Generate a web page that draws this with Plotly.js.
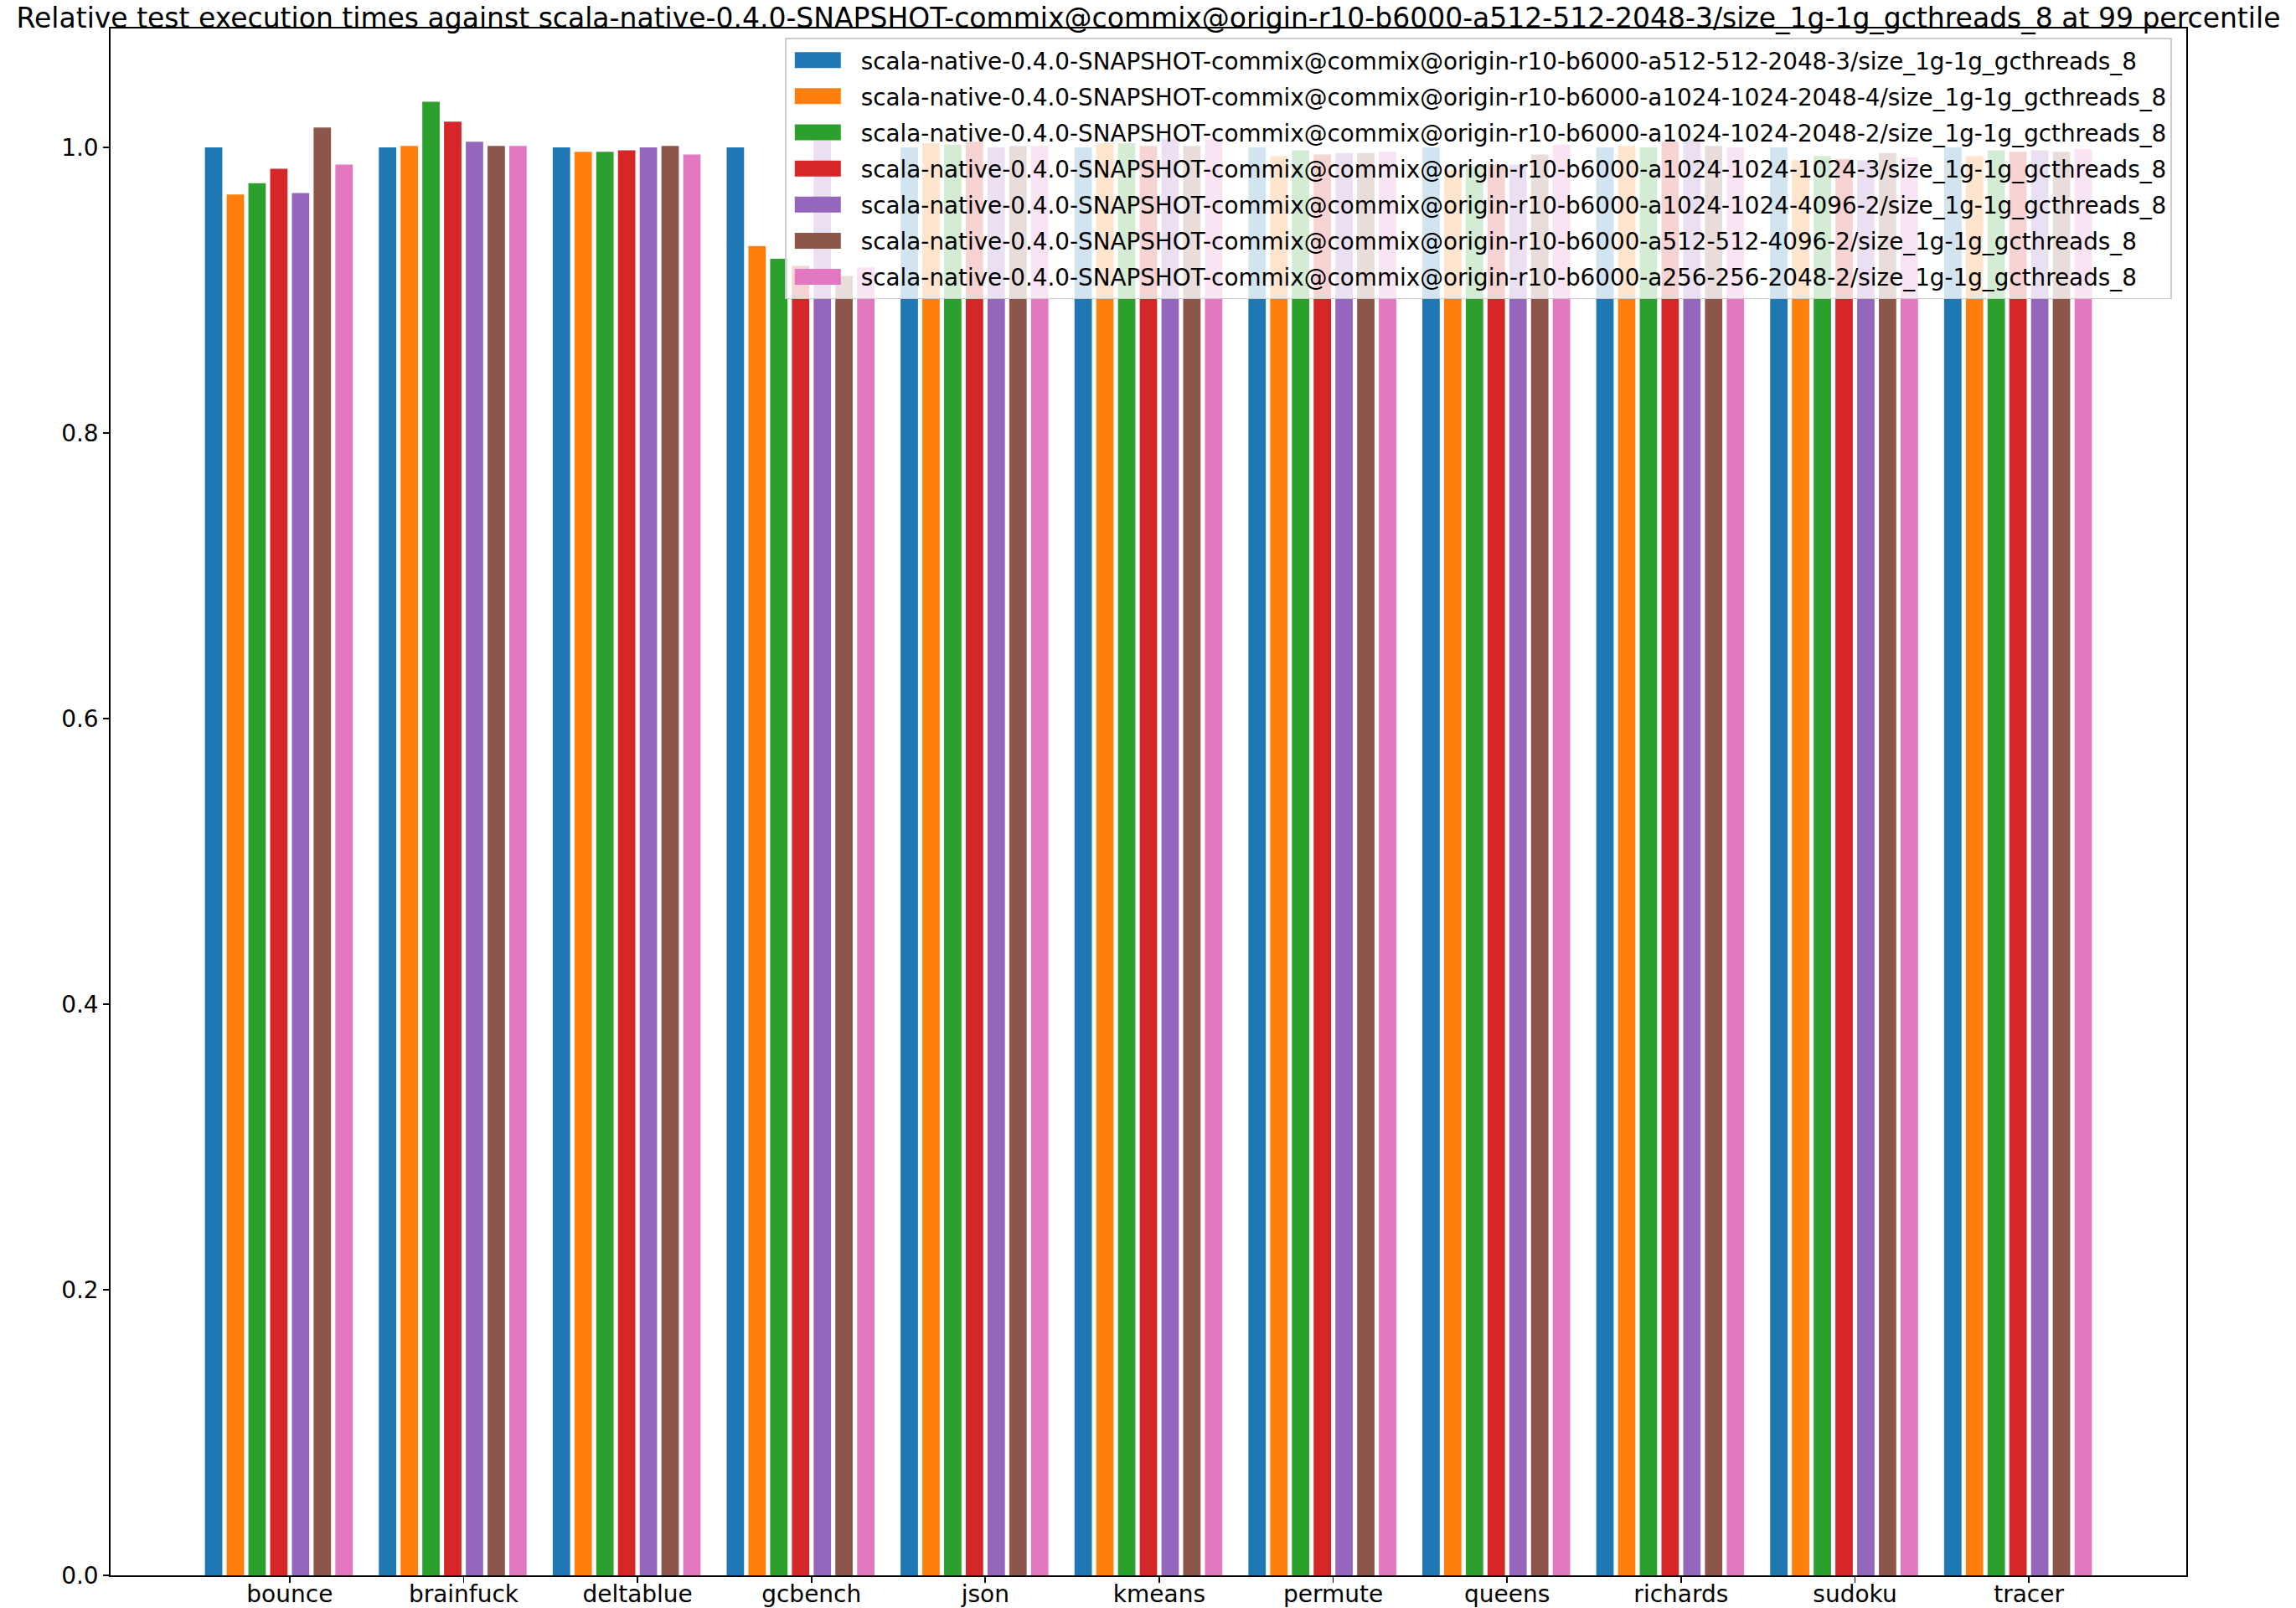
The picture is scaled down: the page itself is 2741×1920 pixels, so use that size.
<!DOCTYPE html>
<html>
<head>
<meta charset="utf-8">
<script src="https://cdn.plot.ly/plotly-3.0.1.min.js"></script>
<style>html,body{margin:0;padding:0;background:#fff;}#chart{width:2741px;height:1920px;}</style>
</head>
<body>
<div id="chart"></div>
<script>
const categories = ["bounce","brainfuck","deltablue","gcbench","json","kmeans","permute","queens","richards","sudoku","tracer"];

const seriesNames = [
  "scala-native-0.4.0-SNAPSHOT-commix@commix@origin-r10-b6000-a512-512-2048-3/size_1g-1g_gcthreads_8",
  "scala-native-0.4.0-SNAPSHOT-commix@commix@origin-r10-b6000-a1024-1024-2048-4/size_1g-1g_gcthreads_8",
  "scala-native-0.4.0-SNAPSHOT-commix@commix@origin-r10-b6000-a1024-1024-2048-2/size_1g-1g_gcthreads_8",
  "scala-native-0.4.0-SNAPSHOT-commix@commix@origin-r10-b6000-a1024-1024-1024-3/size_1g-1g_gcthreads_8",
  "scala-native-0.4.0-SNAPSHOT-commix@commix@origin-r10-b6000-a1024-1024-4096-2/size_1g-1g_gcthreads_8",
  "scala-native-0.4.0-SNAPSHOT-commix@commix@origin-r10-b6000-a512-512-4096-2/size_1g-1g_gcthreads_8",
  "scala-native-0.4.0-SNAPSHOT-commix@commix@origin-r10-b6000-a256-256-2048-2/size_1g-1g_gcthreads_8"
];

const s_a512_2048_3   = [1.0, 1.0, 1.0, 1.0, 1.0, 1.0, 1.0, 1.0, 1.0, 1.0, 1.0];
const s_a1024_2048_4  = [0.967, 1.001, 0.997, 0.931, 1.003, 1.003, 0.994, 0.984, 1.001, 0.991, 0.994];
const s_a1024_2048_2  = [0.975, 1.032, 0.997, 0.922, 1.002, 1.003, 0.998, 0.987, 1.0, 0.994, 0.998];
const s_a1024_1024_3  = [0.985, 1.018, 0.998, 0.917, 1.004, 1.001, 0.995, 0.988, 1.004, 0.992, 0.997];
const s_a1024_4096_2  = [0.968, 1.004, 1.0, 1.005, 1.0, 1.006, 0.996, 0.988, 1.006, 0.991, 0.998];
const s_a512_4096_2   = [1.014, 1.001, 1.001, 0.910, 1.001, 1.001, 0.996, 0.995, 1.001, 0.996, 0.997];
const s_a256_2048_2   = [0.988, 1.001, 0.995, 0.916, 1.001, 1.006, 0.997, 1.002, 1.0, 0.993, 0.999];

const seriesValues = [s_a512_2048_3, s_a1024_2048_4, s_a1024_2048_2, s_a1024_1024_3, s_a1024_4096_2, s_a512_4096_2, s_a256_2048_2];
const colors = ["#1f77b4","#ff7f0e","#2ca02c","#d62728","#9467bd","#8c564b","#e377c2"];

const barStep = 0.125, barWidth = 0.1;
const traces = seriesValues.map((vals, j) => ({
  type: "bar",
  name: seriesNames[j],
  legendgroup: "g" + j,
  x: categories,
  y: vals,
  width: barWidth,
  offset: (j - 3.5) * barStep - barWidth / 2,
  marker: {color: colors[j], line: {width: 0}},
  hoverinfo: "x+y"
}));

const font = "DejaVu Sans, sans-serif";
const layout = {
  width: 2741, height: 1920,
  margin: {l: 132, r: 131, t: 34, b: 39, pad: 0},
  paper_bgcolor: "#fff", plot_bgcolor: "#fff",
  barmode: "overlay",
  showlegend: true,
  title: {
    text: "Relative test execution times against scala-native-0.4.0-SNAPSHOT-commix@commix@origin-r10-b6000-a512-512-2048-3/size_1g-1g_gcthreads_8 at 99 percentile",
    font: {family: font, size: 33, color: "#000"},
    x: 0.5, xref: "paper", xanchor: "center",
    y: 1 - 21/1920, yref: "container", yanchor: "middle"
  },
  xaxis: {
    type: "category",
    range: [-1.03, 10.905],
    showline: true, linecolor: "#000", linewidth: 1.7, mirror: true,
    showgrid: false, zeroline: false,
    ticks: "outside", ticklen: 7, tickwidth: 1.7, tickcolor: "#000",
    ticklabelstandoff: -10,
    tickfont: {family: font, size: 28, color: "#000"},
    automargin: false
  },
  yaxis: {
    range: [0, 1.0833],
    tickvals: [0, 0.2, 0.4, 0.6, 0.8, 1.0],
    tickformat: ".1f",
    showline: true, linecolor: "#000", linewidth: 1.7, mirror: true,
    showgrid: false, zeroline: false,
    ticks: "outside", ticklen: 7, tickwidth: 1.7, tickcolor: "#000",
    tickfont: {family: font, size: 28, color: "#000"},
    automargin: false
  },
  legend: {
    x: 0.3249, y: 0.9938, xanchor: "left", yanchor: "top",
    bgcolor: "rgba(255,255,255,0.8)",
    bordercolor: "#cccccc", borderwidth: 1.7,
    font: {family: font, size: 27.8, color: "#000"},
    itemwidth: 79,
    traceorder: "grouped",
    tracegroupgap: 4
  }
};

Plotly.newPlot("chart", traces, layout, {displayModeBar: false, staticPlot: true}).then(function () {
  // widen the legend swatches to matplotlib-like patches
  document.querySelectorAll("#chart .legendpoints path").forEach(function (p) {
    p.setAttribute("d", "M-34.5,-9.5H20.5V9.5H-34.5Z");
  });
});
</script>
</body>
</html>
